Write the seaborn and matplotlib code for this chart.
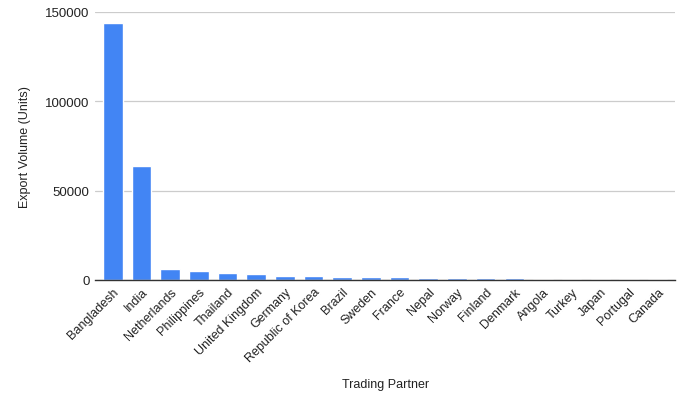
import pandas as pd
import matplotlib
matplotlib.use("Agg")
import matplotlib.pyplot as plt
import seaborn as sns

partners = ["Bangladesh", "India", "Netherlands", "Philippines", "Thailand",
            "United Kingdom", "Germany", "Republic of Korea", "Brazil", "Sweden",
            "France", "Nepal", "Norway", "Finland", "Denmark", "Angola",
            "Turkey", "Japan", "Portugal", "Canada"]
volumes = [143800, 63500, 6200, 5000, 3900, 3400, 2400, 2300, 1800, 1700,
           1700, 1200, 1200, 1200, 850, 820, 800, 800, 780, 760]
yticks = [0, 50000, 100000, 150000]

df = pd.DataFrame({"Trading Partner": partners, "Export Volume (Units)": volumes})

sns.set_theme(style="white")
plt.rcParams["font.family"] = ["Liberation Sans", "DejaVu Sans"]

fig = plt.figure(figsize=(6.91, 4.02), dpi=100)
ax = fig.add_axes([0.1375, 0.301, 0.84, 0.667])

sns.barplot(data=df, x="Trading Partner", y="Export Volume (Units)",
            color="#4285F4", saturation=1, width=0.68, ax=ax, zorder=3)

ax.set_ylim(0, 150000)
ax.set_yticks(yticks)
ax.set_yticklabels([str(t) for t in yticks], fontsize=9.5, color="#222222")
ax.yaxis.grid(True, color="#cccccc", linewidth=0.9, zorder=0)
ax.set_axisbelow(True)
ax.set_xlim(-0.62, len(partners) - 0.38)

ax.tick_params(axis="both", length=0, pad=4)
plt.setp(ax.get_xticklabels(), rotation=45, ha="right", rotation_mode="anchor",
         fontsize=9, color="#222222")

for s in ["top", "right", "left"]:
    ax.spines[s].set_visible(False)
ax.spines["bottom"].set_color("#333333")
ax.spines["bottom"].set_linewidth(1.0)
ax.spines["bottom"].set_zorder(4)

ax.set_xlabel("Trading Partner", fontsize=9, color="#222222", labelpad=10)
ax.set_ylabel("Export Volume (Units)", fontsize=9, color="#222222", labelpad=10)

fig.savefig("out.png", dpi=100)
